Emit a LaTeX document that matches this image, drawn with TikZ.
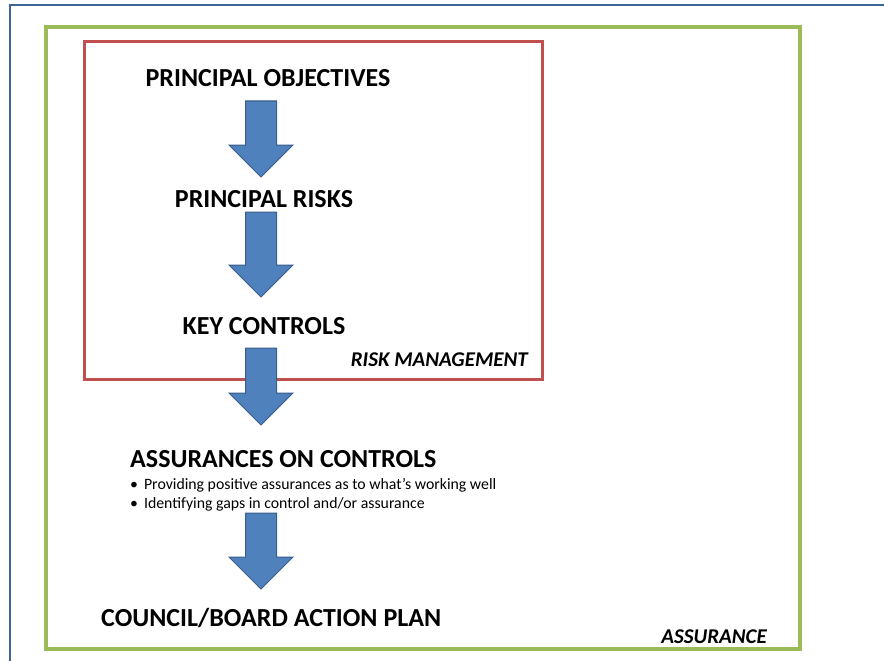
\documentclass[tikz,border=0pt]{standalone}
\usepackage{fontspec}
\setmainfont{Carlito}
\usetikzlibrary{calc}
\usetikzlibrary{positioning}
\definecolor{frame-blue}{RGB}{65, 100, 150}
\definecolor{assur-green}{RGB}{155, 187, 89}
\definecolor{risk-red}{RGB}{192, 80, 77}
\definecolor{arrow-fill}{RGB}{79, 129, 189}
\definecolor{arrow-draw}{RGB}{56, 93, 138}
\tikzset{
  heading/.style={font=\fontsize{26}{30}\selectfont\bfseries, inner sep=0pt},
  boxlabel/.style={font=\fontsize{21}{24}\selectfont\bfseries\itshape, inner sep=0pt},
  bulletline/.style={font=\fontsize{15.8}{18}\selectfont, inner sep=0pt},
  blockarrow/.style={fill=arrow-fill, draw=arrow-draw, line width=1pt, line join=miter}
}

\begin{document}
\begin{tikzpicture}[x=1pt, y=-1pt]
                \useasboundingbox (0, 0) rectangle (884, 661);
                \draw[frame-blue, line width=2.5pt] (10, 661) -- (10, 5) -- (884, 5);
                \draw[assur-green, line width=3.5pt] (46, 27) rectangle (800, 649);
                \draw[risk-red, line width=3pt] (84, 42) rectangle (542, 379);
                % block arrows
                \foreach \ytop/\ytip in {101/177, 212/297, 348/425, 513/589} {
                    \draw[blockarrow] (245.5, \ytop) -- (276.5, \ytop) -- (276.5, \ytip-32) -- (293, \ytip-32)
                        -- (261, \ytip) -- (229, \ytip-32) -- (245.5, \ytip-32) -- cycle;
                }
                \node[heading, anchor=base] (objectives) at (268, 87) {PRINCIPAL OBJECTIVES};
                \node[heading, anchor=base] (risks) at (264, 207) {PRINCIPAL RISKS};
                \node[heading, anchor=base] (controls) at (264, 334) {KEY CONTROLS};
                \node[boxlabel, anchor=base east] (riskmgmt) at (528, 366) {RISK MANAGEMENT};
                \node[heading, anchor=base west] (assurances) at (130, 467) {ASSURANCES ON CONTROLS};
                \node[bulletline, anchor=base west] (bulleta) at (130, 489) {\textbullet\hspace{6pt}Providing positive assurances as to what’s working well};
                \node[bulletline, anchor=base west] (bulletb) at (130, 508) {\textbullet\hspace{6pt}Identifying gaps in control and/or assurance};
                \node[heading, anchor=base west] (actionplan) at (101, 626) {COUNCIL/BOARD ACTION PLAN};
                \node[boxlabel, anchor=base east] (assurance) at (767, 643) {ASSURANCE};
            \end{tikzpicture}
\end{document}
